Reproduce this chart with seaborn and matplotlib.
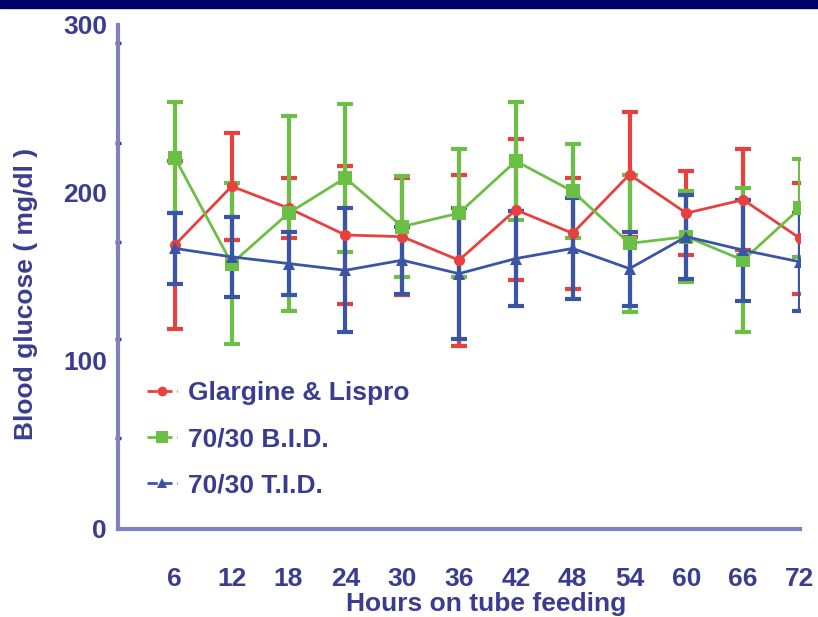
import numpy as np
import pandas as pd
import matplotlib
matplotlib.use("Agg")
import matplotlib.pyplot as plt
from matplotlib.patches import Rectangle
from matplotlib.lines import Line2D
import seaborn as sns

hours = [6, 12, 18, 24, 30, 36, 42, 48, 54, 60, 66, 72]
groups = ["Glargine & Lispro", "70/30 B.I.D.", "70/30 T.I.D."]

glargine_mean = [169, 204, 191, 175, 174, 160, 190, 176, 211, 188, 196, 173]
glargine_err = [50, 32, 18, 41, 35, 51, 42, 33, 37, 25, 30, 33]

bid_mean = [221, 158, 188, 209, 180, 188, 219, 201, 170, 174, 160, 191]
bid_err = [33, 48, 58, 44, 30, 38, 35, 28, 41, 27, 43, 29]

tid_mean = [167, 162, 158, 154, 160, 152, 161, 167, 155, 174, 166, 159]
tid_err = [21, 24, 19, 37, 20, 39, 28, 30, 22, 25, 30, 29]

y_ticks = [0, 100, 200, 300]
y_minor = [54, 113, 171, 230, 289]

colors = {"Glargine & Lispro": "#e8403e",
          "70/30 B.I.D.": "#6cbf45",
          "70/30 T.I.D.": "#3b55a6"}
markers = {"Glargine & Lispro": "o",
           "70/30 B.I.D.": "s",
           "70/30 T.I.D.": "^"}
msize = {"Glargine & Lispro": 8, "70/30 B.I.D.": 10, "70/30 T.I.D.": 8}

means = {groups[0]: glargine_mean, groups[1]: bid_mean, groups[2]: tid_mean}
errs = {groups[0]: glargine_err, groups[1]: bid_err, groups[2]: tid_err}

rows = []
for g in groups:
    for h, m, e in zip(hours, means[g], errs[g]):
        rows.append({"hour": h, "mean": m, "err": e, "group": g})
df = pd.DataFrame(rows)

sns.set_theme(style="white")
plt.rcParams['font.family'] = ['Liberation Sans', 'DejaVu Sans']
text_color = "#3a3d8f"
spine_color = "#7e82bd"
fs = 19

fig = plt.figure(figsize=(8.18, 6.17), dpi=100)
fig.patch.set_facecolor("white")
ax = fig.add_axes([118 / 818, 1 - 529 / 617, (800 - 118) / 818, (529 - 25) / 617])
ax.set_facecolor("white")

for g in groups:
    sub = df[df.group == g]
    ax.errorbar(sub["hour"], sub["mean"], yerr=sub["err"], fmt="none",
                ecolor=colors[g], elinewidth=3, capsize=6, capthick=3, zorder=2)

for g in groups:
    sub = df[df.group == g]
    sns.lineplot(data=sub, x="hour", y="mean", ax=ax, color=colors[g],
                 marker=markers[g], markersize=msize[g], markeredgewidth=0,
                 linewidth=2, legend=False, zorder=3)

ax.set_xlim(0, 72)
ax.set_ylim(0, 300)
ax.set_xticks(hours)
ax.set_xticklabels([str(h) for h in hours])
ax.set_yticks(y_ticks)
ax.set_yticks(y_minor, minor=True)

for s in ["top", "right"]:
    ax.spines[s].set_visible(False)
for s in ["left", "bottom"]:
    ax.spines[s].set_color(spine_color)
    ax.spines[s].set_linewidth(3)

ax.tick_params(axis="x", which="major", direction="out", length=7, width=2,
               color=text_color, labelcolor=text_color, labelsize=fs, pad=20)
ax.tick_params(axis="y", which="major", direction="out", length=6, width=2,
               color=text_color, labelcolor=text_color, labelsize=fs, pad=2)
ax.tick_params(axis="y", which="minor", direction="inout", length=5, width=2.5,
               color=text_color, left=True)
for lab in ax.get_xticklabels() + ax.get_yticklabels():
    lab.set_fontweight("bold")

ax.set_xlabel("Hours on tube feeding", fontsize=fs, fontweight="bold",
              color=text_color)
ax.set_ylabel("Blood glucose ( mg/dl )", fontsize=fs, fontweight="bold",
              color=text_color)
ax.xaxis.set_label_coords(0.54, -0.125)
ax.yaxis.set_label_coords(-0.117, 0.466)

handles = [Line2D([0], [0], color=colors[g], marker=markers[g], markersize=msize[g] - 1,
                  markeredgewidth=0, linewidth=2, linestyle="--") for g in groups]
leg = ax.legend(handles, groups, loc="upper left", bbox_to_anchor=(0.027, 0.315),
                frameon=False, fontsize=fs, handlelength=1.15, handletextpad=0.4,
                labelspacing=0.85, borderaxespad=0)
for t in leg.get_texts():
    t.set_color(text_color)
    t.set_fontweight("bold")

fig.add_artist(Rectangle((0, 1 - 8 / 617), 1, 8 / 617, transform=fig.transFigure,
                         color="#00006b", zorder=10))

fig.savefig("out.png", dpi=100)
